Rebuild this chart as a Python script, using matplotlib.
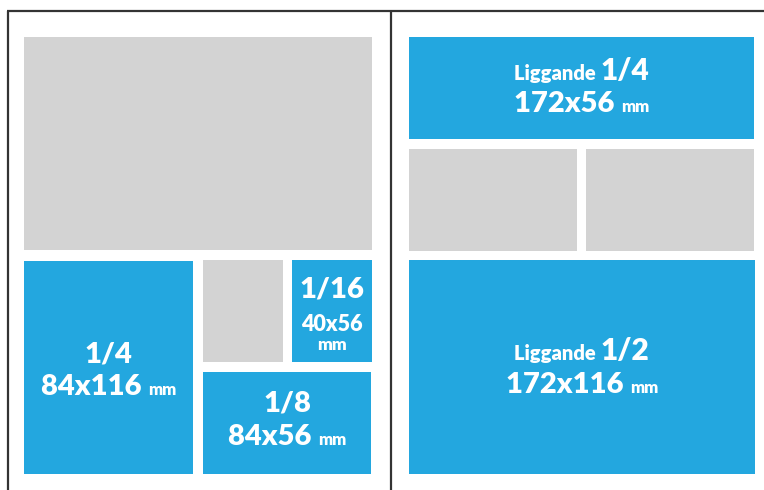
import matplotlib
matplotlib.use("Agg")
import matplotlib.pyplot as plt
from matplotlib.patches import Rectangle

# Ad layout blocks (pixel coordinates of the page mock-up): x0, y0, x1, y1
block_names = ["big", "q_v", "g_s", "s16", "e8", "lq", "gl", "gr", "lh"]
block_x0 = [24, 24, 203, 292, 203, 409, 409, 586, 409]
block_y0 = [37, 261, 260, 260, 372, 37, 149, 149, 260]
block_x1 = [372, 193, 283, 372, 371, 754, 577, 754, 755]
block_y1 = [250, 474, 362, 362, 474, 139, 251, 251, 474]
block_kind = ["grey", "blue", "grey", "blue", "blue", "blue", "grey", "grey", "blue"]

# Labels: block name -> lines of (text, size) segments
labels = {
    "q_v": [[("1/4", 21)], [("84x116 ", 21), ("mm", 12)]],
    "s16": [[("1/16", 21)], [("40x56", 15.5)], [("mm", 12.5)]],
    "e8": [[("1/8", 21)], [("84x56 ", 21), ("mm", 12)]],
    "lq": [[("Liggande ", 14.5), ("1/4", 21.5)], [("172x56 ", 21), ("mm", 12)]],
    "lh": [[("Liggande ", 14.5), ("1/2", 21.5)], [("172x116 ", 21), ("mm", 12)]],
}
label_baselines = {
    "q_v": [362, 395],
    "s16": [297, 331, 350],
    "e8": [411, 445],
    "lq": [80, 112],
    "lh": [360, 393],
}

BLUE = "#23a7df"
GREY = "#d3d3d3"
FONT = "Lato"

W, H = 764, 490
fig = plt.figure(figsize=(W / 100, H / 100), dpi=100)
ax = fig.add_axes([0, 0, 1, 1])
ax.set_xlim(0, W)
ax.set_ylim(H, 0)
ax.axis("off")

# page frame
ax.plot([7, W], [11, 11], color="#333333", lw=1.6, solid_capstyle="butt")
ax.plot([8, 8], [11, H], color="#333333", lw=1.6, solid_capstyle="butt")
ax.plot([391, 391], [11, H], color="#333333", lw=1.6, solid_capstyle="butt")

centers = {}
for n, x0, y0, x1, y1, k in zip(block_names, block_x0, block_y0, block_x1, block_y1, block_kind):
    ax.add_patch(Rectangle((x0, y0), x1 - x0, y1 - y0, facecolor=BLUE if k == "blue" else GREY,
                           edgecolor="none"))
    centers[n] = (x0 + x1) / 2

fig.canvas.draw()
renderer = fig.canvas.get_renderer()

for n, lines in labels.items():
    cx = centers[n]
    for segs, base in zip(lines, label_baselines[n]):
        texts = []
        widths = []
        for s, size in segs:
            t = ax.text(0, base, s, fontsize=size, color="white", fontweight="heavy",
                        family=FONT, ha="left", va="baseline")
            bb = t.get_window_extent(renderer)
            texts.append(t)
            widths.append(bb.width)
        total = sum(widths)
        x = cx - total / 2
        for t, w in zip(texts, widths):
            t.set_x(x)
            x += w

fig.savefig("out.png", dpi=100)
